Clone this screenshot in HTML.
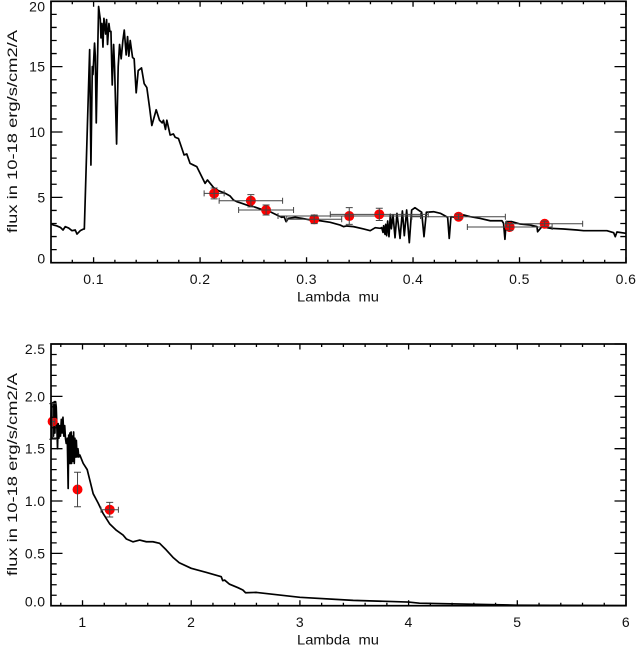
<!DOCTYPE html>
<html lang="en">
<head>
<meta charset="utf-8">
<title>Spectrum flux charts</title>
<style>
html,body{margin:0;padding:0;background:#fff;width:636px;height:645px;overflow:hidden}
svg{display:block}
text{font-family:"Liberation Sans",sans-serif;fill:#111;font-size:14px}
</style>
</head>
<body>
<svg id="chart" xmlns="http://www.w3.org/2000/svg" width="636" height="645" viewBox="0 0 636 645"></svg>
<script>
// ---------- top panel data ----------
const topWave = [.06,.0625,.0656,.0688,.0713,.0734,.0766,.0797,.0828,.0844,.0875,.0906,.0913,.0963,.0975,.0988,.0994,.1009,.1016,.1025,.1047,.1063,.1069,.1078,.1088,.1097,.1113,.1122,.1131,.1144,.1153,.1163,.1175,.1188,.1197,.1216,.1231,.1244,.1259,.1275,.1288,.1306,.1319,.1331,.1344,.1366,.1381,.14,.1419,.145,.1475,.15,.1525,.1547,.1588,.1619,.1644,.1656,.1675,.1688,.1719,.175,.1766,.1797,.1813,.185,.1875,.1906,.1938,.1969,.2,.2047,.2069,.2125,.2172,.2235,.2282,.2313,.2345,.2392,.2439,.2501,.2548,.2595,.2658,.2721,.2768,.2789,.2808,.283,.2893,.2956,.3034,.3128,.3222,.3316,.3347,.3378,.3441,.3535,.3598,.3645,.3692,.3706,.3718,.3724,.3737,.3743,.3752,.3762,.3774,.3787,.3796,.3812,.3831,.3849,.3878,.39,.3918,.394,.3965,.3987,.4018,.405,.4081,.4103,.4125,.4193,.4256,.4303,.4325,.434,.4356,.4397,.4475,.4538,.4631,.4725,.4835,.485,.4863,.4875,.4929,.5007,.5101,.5164,.517,.5211,.5289,.5414,.5539,.5602,.5696,.5821,.5884,.5899,.5915,.6];
const topFlux = [2.96,2.88,2.81,2.7,2.5,2.76,2.65,2.45,2.5,2.19,2.45,2.58,2.58,16.3,7.47,15,14.4,16.8,15.8,10.7,19.6,18.6,17.2,18.3,16.5,18.7,17.5,18.6,16.7,18.3,17.7,17.7,13.6,16.7,15,9.08,15,16.7,15.6,17,17.8,15.9,17.3,15.8,17,15.7,15.6,13,14.7,14.9,13.7,13.4,11.9,10.5,11.7,10.9,10.7,10.9,10.2,10.9,9.77,9.85,9.6,9.5,9.13,8.24,8.32,7.6,7.47,7.35,6.84,6.07,6.33,5.77,5.51,5.31,5.1,4.8,4.67,4.54,4.41,4.29,4.16,4.03,3.9,3.65,3.47,3.52,3.14,3.39,3.47,3.39,3.27,3.21,3.09,2.88,2.76,2.81,2.76,2.58,2.45,2.68,2.63,2.68,2.32,2.83,2.17,2.93,2.07,3.19,1.99,3.7,2.6,3.65,1.91,3.78,1.86,3.96,2.07,4.03,1.53,4.03,4.21,4.03,3.86,1.99,3.86,3.9,3.78,3.57,3.47,1.86,3.52,3.47,3.65,3.52,3.39,3.21,3.21,3.01,1.79,3.14,3.14,2.96,2.88,2.76,2.37,2.76,2.63,2.58,2.5,2.45,2.45,2.45,2.3,1.99,2.35,2.25];
const topPointWave = [.2132,.2477,.262,.3072,.3401,.3683,.4428,.4908,.5236];
const topPointFlux = [5.3,4.74,4.03,3.32,3.57,3.7,3.52,2.73,2.98];
const topPointWaveErr = [.0094,.0298,.0258,.0258,.0669,.046,.0439,.0398,.0357];
const topPointFluxErr = [.42,.47,.38,.33,.64,.47,.2,.25,.2];
const topXTicks = ["0.1","0.2","0.3","0.4","0.5","0.6"];
const topYTicks = ["0","5","10","15","20"];

// ---------- bottom panel data ----------
const bottomWave = [.71,.715,.72,.727,.733,.74,.746,.752,.758,.763,.77,.776,.783,.79,.797,.805,.812,.82,.828,.836,.843,.85,.86,.868,.873,.878,.884,.889,.895,.9,.906,.912,.918,.924,.93,.936,.943,.95,.958,.966,.975,1.006,1.043,1.067,1.098,1.144,1.19,1.251,1.312,1.373,1.404,1.465,1.526,1.587,1.648,1.709,1.771,1.832,1.89,2,2.14,2.276,2.29,2.307,2.35,2.43,2.475,2.5,2.6,3,3.49,4,4.1,5,6];
const bottomFlux = [1.79,1.93,1.6,1.94,1.62,1.95,1.65,1.95,1.9,1.75,1.5,1.74,1.6,1.72,1.62,1.78,1.65,1.8,1.62,1.72,1.6,1.55,1.6,1.12,1.63,1.36,1.65,1.36,1.66,1.36,1.62,1.38,1.66,1.36,1.6,1.42,1.58,1.42,1.5,1.42,1.44,1.36,1.3,1.2,1.07,.98,.88,.78,.72,.675,.637,.61,.627,.611,.611,.596,.532,.462,.41,.357,.318,.277,.239,.245,.207,.172,.15,.124,.127,.08,.051,.035,.024,.005,.001];
const bottomPointWave = [.725,.954,1.25];
const bottomPointFlux = [1.76,1.11,.917];
const bottomPointWaveErr = [.02,0,.08];
const bottomPointFluxErr = [.17,.165,.07];
const bottomXTicks = ["1","2","3","4","5","6"];
const bottomYTicks = ["0.0","0.5","1.0","1.5","2.0","2.5"];

const svg = document.getElementById('chart');
const NS = 'http://www.w3.org/2000/svg';

function make(tag, attrs, parent, text) {
  const el = document.createElementNS(NS, tag);
  for (const k in attrs) el.setAttribute(k, attrs[k]);
  if (text !== undefined) el.textContent = text;
  parent.appendChild(el);
  return el;
}

function drawPanel(cfg) {
  const sx = v => cfg.left + (v - cfg.xMin) / (cfg.xMax - cfg.xMin) * (cfg.right - cfg.left);
  const sy = v => cfg.bottom - (v - cfg.yMin) / (cfg.yMax - cfg.yMin) * (cfg.bottom - cfg.top);

  const g = make('g', {}, svg);
  
  

  // spectrum
  const pts = cfg.wave.map((w, i) => sx(w).toFixed(2) + ',' + sy(cfg.flux[i]).toFixed(2)).join(' ');
  const line = make('polyline', {points: pts, fill: 'none', stroke: '#000', 'stroke-width': 1.7, 'stroke-linejoin': 'round'}, g);
  
  

  // photometric points
  cfg.pWave.forEach((w, i) => {
    const cx = sx(w), cy = sy(cfg.pFlux[i]);
    const pg = make('g', {}, g);
    
    
    make('circle', {cx: cx, cy: cy, r: 5, fill: '#ff0000'}, pg);
    const x0 = sx(w - cfg.pWaveErr[i]), x1 = sx(w + cfg.pWaveErr[i]);
    const y0 = sy(cfg.pFlux[i] - cfg.pFluxErr[i]), y1 = sy(cfg.pFlux[i] + cfg.pFluxErr[i]);
    const style = {stroke: '#444', 'stroke-width': 1, fill: 'none'};
    if (cfg.pWaveErr[i] > 0) {
      make('path', Object.assign({d: 'M' + x0 + ' ' + cy + 'H' + x1 + 'M' + x0 + ' ' + (cy - 3) + 'V' + (cy + 3) + 'M' + x1 + ' ' + (cy - 3) + 'V' + (cy + 3)}, style), pg);
    }
    make('path', Object.assign({d: 'M' + cx + ' ' + y0 + 'V' + y1 + 'M' + (cx - 3.5) + ' ' + y0 + 'H' + (cx + 3.5) + 'M' + (cx - 3.5) + ' ' + y1 + 'H' + (cx + 3.5)}, style), pg);
  });

  // frame
  const frame = make('rect', {x: cfg.left, y: cfg.top, width: cfg.right - cfg.left, height: cfg.bottom - cfg.top, fill: 'none', stroke: '#000', 'stroke-width': 1.7}, g);
  
  

  // ticks
  let d = '';
  for (let k = 0; ; k++) {
    const v = cfg.xMinorStart + k * cfg.xMinorStep;
    if (v > cfg.xMax + 1e-9) break;
    const major = Math.abs(v / cfg.xMajorStep - Math.round(v / cfg.xMajorStep)) < 1e-6;
    const len = major ? 5.5 : 3;
    const x = sx(v);
    d += 'M' + x + ' ' + cfg.bottom + 'v' + (-len) + 'M' + x + ' ' + cfg.top + 'v' + len;
  }
  for (let k = 0; ; k++) {
    const v = cfg.yMin + k * cfg.yMinorStep;
    if (v > cfg.yMax + 1e-9) break;
    const major = Math.abs(v / cfg.yMajorStep - Math.round(v / cfg.yMajorStep)) < 1e-6;
    const len = major ? 11.5 : 5.7;
    const y = sy(v);
    d += 'M' + cfg.left + ' ' + y + 'h' + len + 'M' + cfg.right + ' ' + y + 'h' + (-len);
  }
  const ticks = make('path', {d: d, stroke: '#000', 'stroke-width': 1.3, fill: 'none'}, g);
  
  

  // tick labels
  cfg.xLabels.forEach(t => {
    const lab = make('text', {x: sx(parseFloat(t)), y: cfg.bottom + 21.5, 'text-anchor': 'middle', 'letter-spacing': '.4'}, g, t);
    
    
  });
  cfg.yLabels.forEach(t => {
    const c = Math.min(cfg.bottom - 4, Math.max(cfg.top + 5, sy(parseFloat(t))));
    const lab = make('text', {x: 45.5, y: c + 5, 'text-anchor': 'end', 'letter-spacing': '.4'}, g, t);
    
    
  });

  // axis titles
  const xt = make('text', {x: 338, y: cfg.bottom + 39, 'text-anchor': 'middle', textLength: 82, lengthAdjust: 'spacingAndGlyphs', 'word-spacing': '4'}, g, 'Lambda mu');
  
  
  const yc = cfg.titleCenter;
  const yt = make('text', {transform: 'translate(17 ' + yc + ') rotate(-90)', x: 0, y: 0, 'text-anchor': 'middle', textLength: 203, lengthAdjust: 'spacingAndGlyphs'}, g, 'flux in 10-18 erg/s/cm2/A');
  
  
}

drawPanel({
  name: 'top', left: 51, right: 626, top: 1.3, bottom: 262.7,
  xMin: .06, xMax: .6, yMin: 0, yMax: 20,
  xMinorStart: .06, xMinorStep: .02, xMajorStep: .1, yMinorStep: 1, yMajorStep: 5,
  wave: topWave, flux: topFlux,
  pWave: topPointWave, pFlux: topPointFlux, pWaveErr: topPointWaveErr, pFluxErr: topPointFluxErr,
  xLabels: topXTicks, yLabels: topYTicks, titleCenter: 131.5
});
drawPanel({
  name: 'bottom', left: 51, right: 626, top: 344, bottom: 605.7,
  xMin: .71, xMax: 6, yMin: 0, yMax: 2.5,
  xMinorStart: .8, xMinorStep: .2, xMajorStep: 1, yMinorStep: .1, yMajorStep: .5,
  wave: bottomWave, flux: bottomFlux,
  pWave: bottomPointWave, pFlux: bottomPointFlux, pWaveErr: bottomPointWaveErr, pFluxErr: bottomPointFluxErr,
  xLabels: bottomXTicks, yLabels: bottomYTicks, titleCenter: 474.5
});
</script>
</body>
</html>
